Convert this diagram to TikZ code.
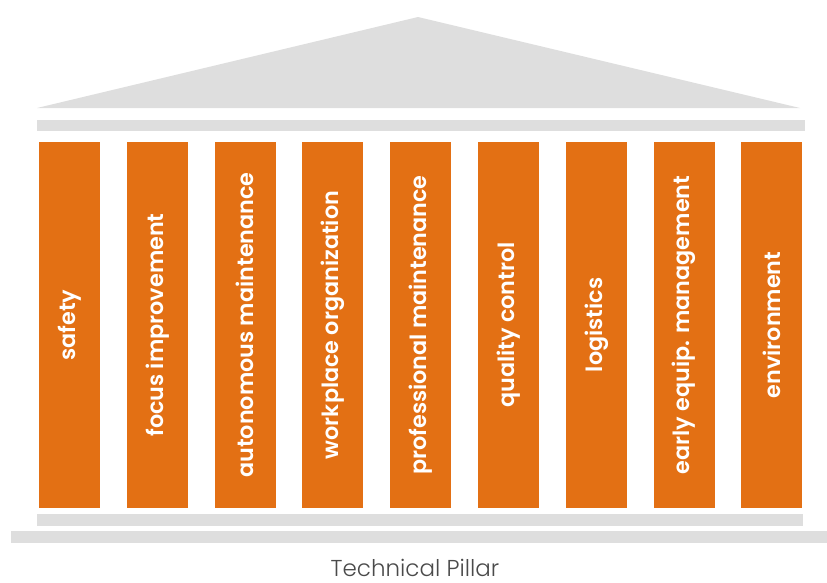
\documentclass[tikz,border=0pt]{standalone}
\usepackage{fontspec}
\newfontfamily\pillarfont{Poppins SemiBold}
\newfontfamily\captionfont{Poppins Light}
\definecolor{pillarorange}{HTML}{E37014}
\definecolor{stonegray}{HTML}{DEDEDE}
\definecolor{captiongray}{HTML}{4A4A4A}
\begin{document}
\begin{tikzpicture}[x=1pt, y=-1pt,
  stone/.style={fill=stonegray},
  pillar/.style={fill=pillarorange, rotate=90, minimum width=366pt,
    minimum height=61pt, inner sep=0pt, text=white,
    font=\pillarfont\fontsize{22.3}{25}\selectfont}]
\useasboundingbox (0,0) rectangle (827,582);

% draw the roof and the beam
\fill[stone] (37,108) -- (418,17) -- (800,108) -- cycle;
\fill[stone] (37,120) rectangle (805,131);

% draw the pillars
\foreach \x/\xtext in {
0/safety,
1/focus improvement,
2/autonomous maintenance,
3/workplace organization,
4/professional maintenance,
5/quality control,
6/logistics,
7/early equip. management,
8/environment}
\node[pillar] (pillar\x) at (69.5+87.8*\x,325) {\xtext};

% draw the steps
\fill[stone] (37,514) rectangle (803,526);
\fill[stone] (11,531) rectangle (827,543);

% the caption under the steps
\node[anchor=base, inner sep=0pt, text=captiongray,
  font=\captionfont\fontsize{23}{26}\selectfont]
  (caption) at (415,576) {Technical Pillar};
\end{tikzpicture}
\end{document}
